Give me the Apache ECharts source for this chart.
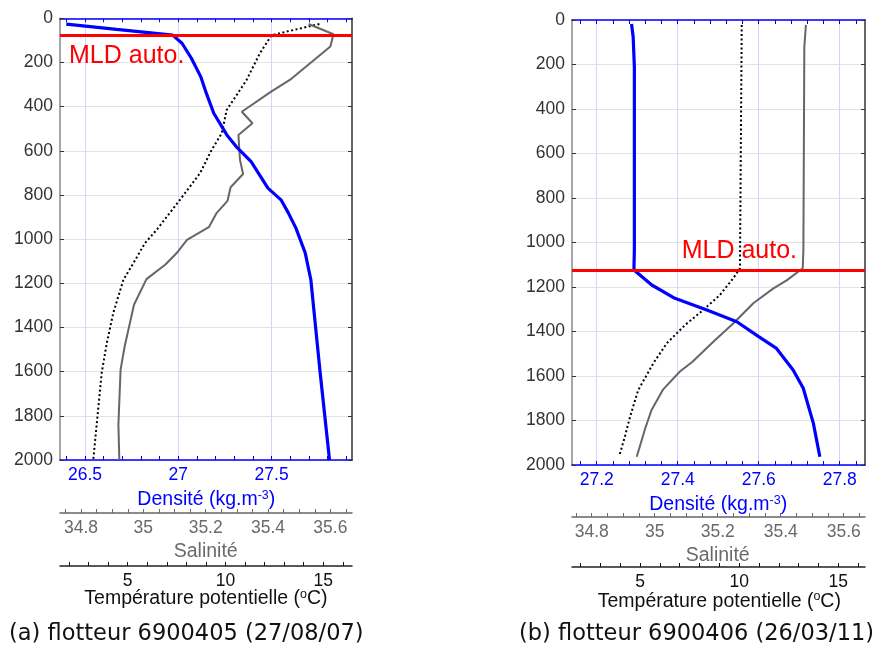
<!DOCTYPE html>
<html><head><meta charset="utf-8">
<script src="https://cdn.jsdelivr.net/npm/echarts@6/dist/echarts.min.js"></script>
<style>html,body{margin:0;padding:0;background:#fff}#c{width:883px;height:652px}</style>
</head><body><div id="c"></div>
<script>
// ================= DATA =================
const captions = ['(a) flotteur 6900405 (27/08/07)', '(b) flotteur 6900406 (26/03/11)'];
const mldDepth = [76, 1124];
const depthRange = [0, 2000, 200];

// Panel (a)
const densDepthA = [26, 50, 76, 113, 181, 264, 339, 430, 528, 581, 649, 769, 822, 882, 950, 1063, 1184, 1606, 2000];
const densA      = [26.40, 26.67, 26.97, 27.02, 27.07, 27.12, 27.15, 27.19, 27.26, 27.31, 27.39, 27.48, 27.55, 27.59, 27.63, 27.68, 27.71, 27.76, 27.81];
const salDepthA  = [26, 72, 128, 279, 332, 423, 475, 528, 641, 705, 765, 827, 882, 946, 1003, 1063, 1116, 1181, 1297, 1486, 1591, 1840, 2000];
const salA       = [35.53, 35.61, 35.60, 35.47, 35.41, 35.316, 35.35, 35.305, 35.31, 35.32, 35.28, 35.27, 35.235, 35.21, 35.14, 35.107, 35.07, 35.01, 34.97, 34.94, 34.927, 34.92, 34.923];
const tempDepthA = [26, 76, 158, 279, 370, 415, 520, 596, 701, 822, 958, 1018, 1109, 1184, 1335, 1471, 1606, 1833, 2000];
const tempA      = [14.80, 12.36, 11.76, 11.08, 10.40, 10.06, 9.81, 9.29, 8.70, 7.67, 6.48, 5.88, 5.29, 4.78, 4.26, 3.93, 3.67, 3.42, 3.24];

// Panel (b)
const densDepthB = [18, 75, 210, 1034, 1116, 1128, 1191, 1251, 1303, 1356, 1423, 1476, 1573, 1655, 1813, 1963];
const densB      = [27.286, 27.290, 27.293, 27.293, 27.292, 27.295, 27.336, 27.393, 27.472, 27.546, 27.600, 27.644, 27.685, 27.710, 27.735, 27.751];
const salDepthB  = [22, 120, 1034, 1116, 1169, 1206, 1273, 1363, 1446, 1536, 1580, 1660, 1753, 1835, 1963];
const salB       = [35.480, 35.475, 35.472, 35.470, 35.420, 35.377, 35.313, 35.250, 35.186, 35.120, 35.080, 35.027, 34.990, 34.970, 34.943];
const tempDepthB = [22, 1116, 1161, 1236, 1303, 1371, 1453, 1543, 1663, 1783, 1872, 1960];
const tempB      = [10.13, 10.04, 9.70, 9.03, 8.19, 7.27, 6.35, 5.67, 4.91, 4.50, 4.24, 3.95];

// Axis ticks: [min, max, minor step, labelled step]
const densTicksA = [26.4, 27.9, 0.1, 0.5];
const salTicksA  = [34.75, 35.65, 0.05, 0.2];
const tempTicksA = [2, 16, 1, 5];
const densTicksB = [27.16, 27.84, 0.04, 0.2];
const salTicksB  = [34.75, 35.65, 0.05, 0.2];
const tempTicksB = [2, 16, 1, 5];
// density grid lines: [first, last, step]
const densGridA = [26.5, 27.5, 0.5];
const densGridB = [27.2, 27.8, 0.2];

// ================= BUILD =================
const FONT = 'Liberation Sans';
const BLUE = '#0000ff';
const grids = [], xAxes = [], yAxes = [], series = [], titles = [];

function addGrid(l, t, w, h) { grids.push({left: l, top: t, width: w, height: h, containLabel: false}); return grids.length - 1; }
function hiddenY(g) {
  yAxes.push({type: 'value', gridIndex: g, min: depthRange[0], max: depthRange[1], inverse: true,
    axisLine: {show: false, onZero: false}, axisTick: {show: false}, axisLabel: {show: false}, splitLine: {show: false}});
  return yAxes.length - 1;
}
function fmt(major) {
  return v => { const r = v / major; return Math.abs(r - Math.round(r)) < 1e-6 ? String(+v.toFixed(3)) : ''; };
}

function addVar(box, tk, cal, o) {
  const px = v => cal[1] + (v - cal[0]) * cal[2];
  const l = px(tk[0]), r = px(tk[1]);
  const g = addGrid(l, box.t, r - l, box.h);
  const y = hiddenY(g);
  const xb = xAxes.length;
  const ax = {type: 'value', gridIndex: g, position: 'bottom', offset: o.offset, min: tk[0], max: tk[1], interval: tk[2],
    axisLine: {show: false, onZero: false},
    axisTick: {show: true, inside: true, length: 4, lineStyle: {color: o.color, width: 1}},
    axisLabel: {show: true, formatter: fmt(tk[3]), color: o.color, fontSize: 17.5, fontFamily: FONT, margin: 6},
    splitLine: {show: false},
    name: o.name, nameLocation: 'middle', nameGap: o.nameGap,
    nameTextStyle: {color: o.color, fontFamily: FONT, fontSize: 19.5,
      rich: {n: {color: o.color, fontFamily: FONT, fontSize: 19.5, lineHeight: 22},
             s: {color: o.color, fontFamily: FONT, fontSize: 12.5, lineHeight: 12, verticalAlign: 'top'}}}
  };
  if (o.noMove) ax.nameMoveOverlap = false;
  xAxes.push(ax);
  if (o.top) {
    xAxes.push({type: 'value', gridIndex: g, position: 'top', min: tk[0], max: tk[1], interval: tk[2],
      axisLine: {show: false, onZero: false},
      axisTick: {show: true, inside: true, length: 4, lineStyle: {color: o.color, width: 1}},
      axisLabel: {show: false}, splitLine: {show: false}});
  }
  return {xb, y};
}

function addVGrid(box, gm, cal) {
  const px = v => cal[1] + (v - cal[0]) * cal[2];
  const l = px(gm[0]), r = px(gm[1]);
  const g = addGrid(l, box.t, r - l, box.h);
  hiddenY(g);
  xAxes.push({type: 'value', gridIndex: g, min: gm[0], max: gm[1], interval: gm[2],
    axisLine: {show: false, onZero: false}, axisTick: {show: false}, axisLabel: {show: false},
    splitLine: {show: true, lineStyle: {color: '#d4d4ff', width: 1}}});
}

function addPanel(P) {
  const box = P.box;
  addVGrid(box, P.densGrid, P.densCal);
  // frame grid
  const g = addGrid(box.l, box.t, box.w, box.h);
  const yl = yAxes.length;
  yAxes.push({type: 'value', gridIndex: g, position: 'left', min: depthRange[0], max: depthRange[1], interval: depthRange[2], inverse: true,
    axisLine: {show: true, onZero: false, lineStyle: {color: '#888', width: 1.5}},
    axisTick: {show: true, inside: true, length: 4, lineStyle: {color: '#333'}},
    axisLabel: {show: true, color: '#333', fontSize: 17.5, fontFamily: FONT, margin: 7, formatter: v => String(v)},
    splitLine: {show: true, lineStyle: {color: '#e2e2e2', width: 1}}});
  yAxes.push({type: 'value', gridIndex: g, position: 'right', min: depthRange[0], max: depthRange[1], interval: depthRange[2], inverse: true,
    axisLine: {show: true, onZero: false, lineStyle: {color: '#333', width: 1.5}},
    axisTick: {show: true, inside: true, length: 4, lineStyle: {color: '#333'}},
    axisLabel: {show: false}, splitLine: {show: false}});
  const xf = xAxes.length;
  const frameX = (pos, off, color) => xAxes.push({type: 'value', gridIndex: g, position: pos, offset: off, min: 0, max: 1,
    axisLine: {show: true, onZero: false, lineStyle: {color: color, width: 1.5}},
    axisTick: {show: false}, axisLabel: {show: false}, splitLine: {show: false}});
  frameX('bottom', 0, BLUE);
  frameX('top', 0, BLUE);
  frameX('bottom', P.salOffset, '#666');
  frameX('bottom', P.tempOffset, '#222');

  const d = addVar(box, P.densTicks, P.densCal, {offset: 0, color: BLUE, top: true,
    name: '{n|Densité (kg.m}{s|-3}{n|)}', nameGap: P.densNameGap});
  const s = addVar(box, P.salTicks, P.salCal, {offset: P.salOffset, color: '#6a6a6a',
    name: '{n|Salinité}', nameGap: P.salNameGap});
  const t = addVar(box, P.tempTicks, P.tempCal, {offset: P.tempOffset, color: '#111', noMove: true,
    name: '{n|Température potentielle (}{s|o}{n|C)}', nameGap: P.tempNameGap});

  const mk = (dep, val) => dep.map((z, i) => [val[i], z]);
  series.push({type: 'line', xAxisIndex: t.xb, yAxisIndex: t.y, data: mk(P.tempDepth, P.temp), symbol: 'none', clip: false, z: 2,
    lineStyle: {color: '#000', width: 2, type: [2, 2.5]}});
  series.push({type: 'line', xAxisIndex: s.xb, yAxisIndex: s.y, data: mk(P.salDepth, P.sal), symbol: 'none', clip: false, z: 3,
    lineStyle: {color: '#666', width: 2}});
  series.push({type: 'line', xAxisIndex: d.xb, yAxisIndex: d.y, data: mk(P.densDepth, P.dens), symbol: 'none', clip: false, z: 4,
    lineStyle: {color: BLUE, width: 3.2}});
  series.push({type: 'line', xAxisIndex: xf, yAxisIndex: yl, data: [], symbol: 'none', z: 5,
    markLine: {symbol: 'none', silent: true, animation: false,
      lineStyle: {color: '#ff0000', width: 3, type: 'solid'},
      label: {show: true, formatter: 'MLD auto.', position: P.mldPos, color: '#ff0000', fontSize: 25, fontFamily: FONT,
        distance: P.mldDist, padding: P.mldPad},
      data: [{yAxis: P.mld}]}});
  titles.push({text: P.caption, left: P.capLeft, top: P.capTop, padding: 0,
    textStyle: {fontFamily: 'DejaVu Sans', fontSize: 22.5, fontWeight: 'normal', color: '#111'}});
}

addPanel({
  box: {l: 60, t: 18.3, w: 292, h: 441.7},
  densGrid: densGridA, densCal: [27, 178.3, 186.7], salCal: [34.8, 81, 311.7], tempCal: [5, 127.7, 19.56],
  densTicks: densTicksA, salTicks: salTicksA, tempTicks: tempTicksA,
  salOffset: 53, tempOffset: 106, densNameGap: 26, salNameGap: 25, tempNameGap: 22,
  densDepth: densDepthA, dens: densA, salDepth: salDepthA, sal: salA, tempDepth: tempDepthA, temp: tempA,
  mld: mldDepth[0], mldPos: 'insideStartBottom', mldDist: 9, mldPad: [0, 0, 0, 0],
  caption: captions[0], capLeft: 9, capTop: 623
});
addPanel({
  box: {l: 572, t: 20, w: 293, h: 445},
  densGrid: densGridB, densCal: [27.2, 596.7, 405], salCal: [34.8, 591.7, 315], tempCal: [5, 640, 19.83],
  densTicks: densTicksB, salTicks: salTicksB, tempTicks: tempTicksB,
  salOffset: 52, tempOffset: 102, densNameGap: 25, salNameGap: 25, tempNameGap: 23.5,
  densDepth: densDepthB, dens: densB, salDepth: salDepthB, sal: salB, tempDepth: tempDepthB, temp: tempB,
  mld: mldDepth[1], mldPos: 'insideEndTop', mldDist: 6, mldPad: [0, 62, 0, 0],
  caption: captions[1], capLeft: 519, capTop: 623
});

const chart = echarts.init(document.getElementById('c'), null, {renderer: 'canvas', width: 883, height: 652});
chart.setOption({
  animation: false,
  backgroundColor: '#ffffff',
  title: titles,
  grid: grids, xAxis: xAxes, yAxis: yAxes, series: series
});
</script>
</body></html>
